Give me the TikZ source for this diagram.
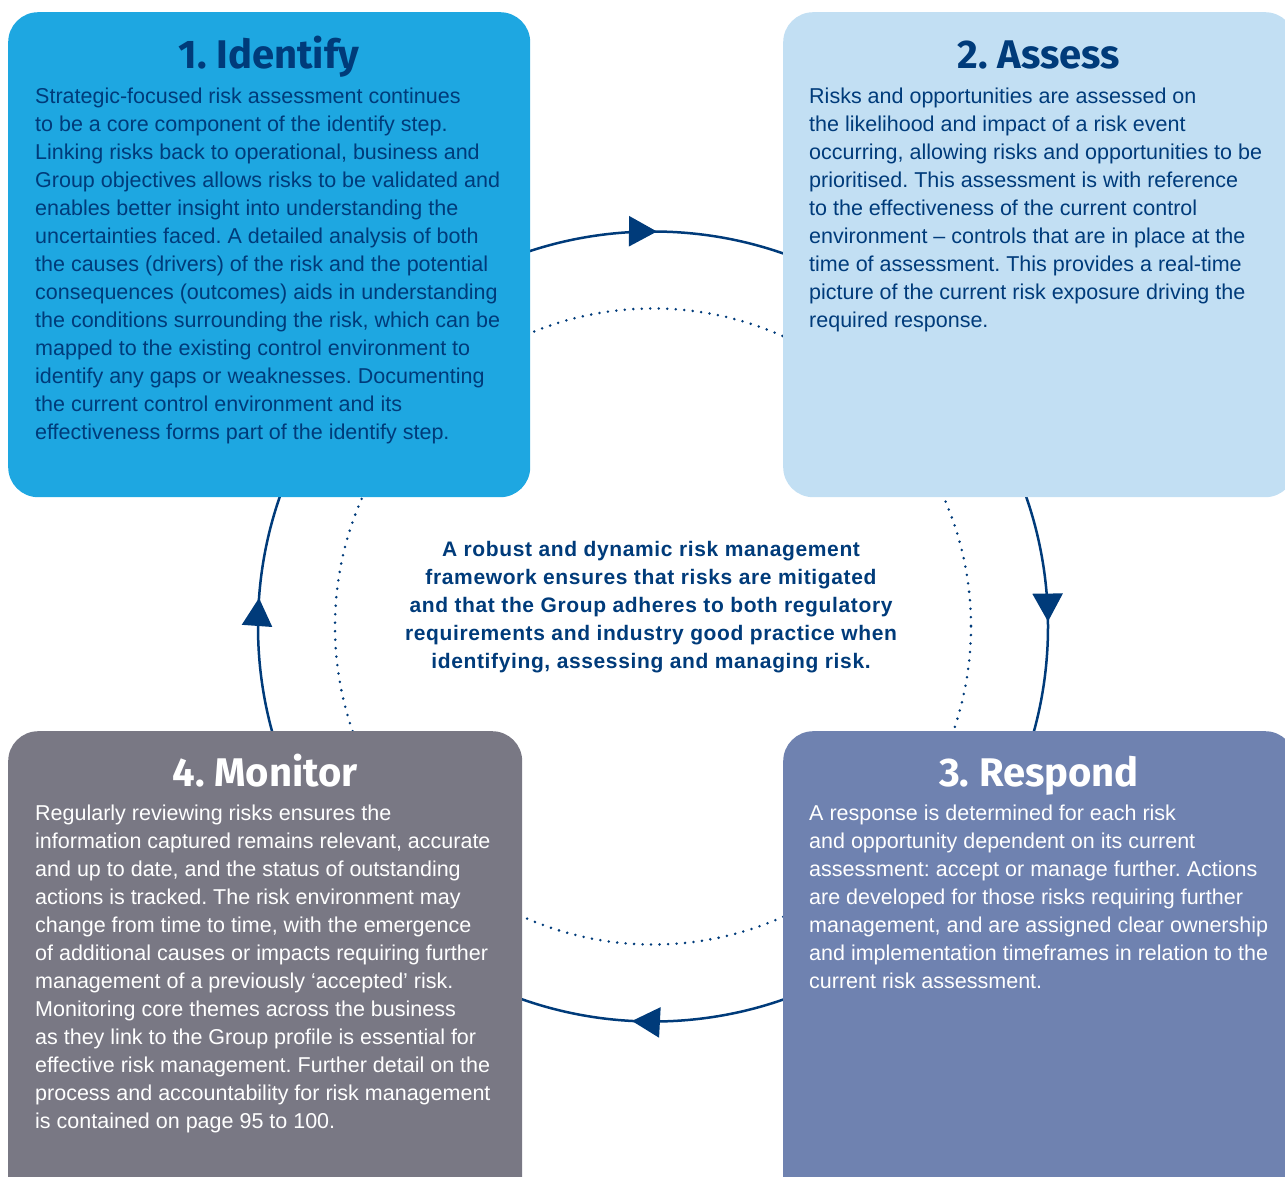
\documentclass[tikz,border=0pt]{standalone}
\usepackage{fontspec}
\setmainfont{Liberation Sans}
\newfontfamily\headfont{Fira Sans}
\newfontfamily\mottofont{Liberation Sans}[LetterSpace=3]
\usepackage{tikz}
\usetikzlibrary{arrows.meta, decorations.markings}
\definecolor{idblue}{RGB}{30, 167, 225}
\definecolor{asblue}{RGB}{194, 223, 243}
\definecolor{rsblue}{RGB}{111, 130, 176}
\definecolor{mngrey}{RGB}{121, 120, 132}
\definecolor{navy}{RGB}{0, 59, 122}
\frenchspacing
\tikzset{looptip/.tip={Triangle[length=28pt, width=30pt]}}

\begin{document}
\begin{tikzpicture}[x=1pt, y=-1pt,
    panel/.style={rectangle, rounded corners=30pt, inner sep=0pt, anchor=north west, minimum width=#1},
    heading/.style={anchor=base, inner sep=0pt, font=\headfont\bfseries\fontsize{40pt}{40pt}\selectfont},
    bodytext/.style={anchor=north west, inner sep=0pt, align=left, font=\fontsize{21.5pt}{28pt}\selectfont},
    motto/.style={anchor=north, inner sep=0pt, align=center, text=navy, font=\mottofont\bfseries\fontsize{21pt}{28pt}\selectfont},
    loopline/.style={draw=navy, line width=2.5pt},
    dotline/.style={draw=navy, line width=2.8pt, line cap=round, dash pattern=on 0pt off 8.5pt}
]
    \clip (0,0) rectangle (1285,1176);

    % Cycle
    \coordinate (hub) at (653,626.5);
    \draw[dotline] (hub) circle[radius=318];
    \draw[loopline, postaction={decorate}, decoration={markings,
        mark=at position 0.2585 with {\arrow{looptip}},
        mark=at position 0.5115 with {\arrow{looptip}},
        mark=at position 0.7516 with {\arrow{looptip}},
        mark=at position 0.9980 with {\arrow{looptip}}}]
        (hub) circle[radius=395];

    % Boxes
    \node[panel=522pt, minimum height=485pt, fill=idblue] (identify) at (8,12) {};
    \node[panel=512pt, minimum height=485pt, fill=asblue] (assess) at (783,12) {};
    \node[panel=512pt, minimum height=480pt, fill=rsblue] (respond) at (783,731) {};
    \node[panel=514pt, minimum height=480pt, fill=mngrey] (monitor) at (8,731) {};

    % Headings
    \node[heading, text=navy] (identify_h) at (269,68) {1. Identify};
    \node[heading, text=navy] (assess_h) at (1039,68) {2. Assess};
    \node[heading, text=white] (respond_h) at (1039,786) {3. Respond};
    \node[heading, text=white] (monitor_h) at (265,786) {4. Monitor};

    % Texts
    \node[bodytext, text=navy] (identify_t) at (35,87.3) {Strategic-focused risk assessment continues\\
        to be a core component of the identify step.\\
        Linking risks back to operational, business and\\
        Group objectives allows risks to be validated and\\
        enables better insight into understanding the\\
        uncertainties faced. A detailed analysis of both\\
        the causes (drivers) of the risk and the potential\\
        consequences (outcomes) aids in understanding\\
        the conditions surrounding the risk, which can be\\
        mapped to the existing control environment to\\
        identify any gaps or weaknesses. Documenting\\
        the current control environment and its\\
        effectiveness forms part of the identify step.};
    \node[bodytext, text=navy] (assess_t) at (809,87.3) {Risks and opportunities are assessed on\\
        the likelihood and impact of a risk event\\
        occurring, allowing risks and opportunities to be\\
        prioritised. This assessment is with reference\\
        to the effectiveness of the current control\\
        environment -- controls that are in place at the\\
        time of assessment. This provides a real-time\\
        picture of the current risk exposure driving the\\
        required response.};
    \node[bodytext, text=white] (respond_t) at (809,804.3) {A response is determined for each risk\\
        and opportunity dependent on its current\\
        assessment: accept or manage further. Actions\\
        are developed for those risks requiring further\\
        management, and are assigned clear ownership\\
        and implementation timeframes in relation to the\\
        current risk assessment.};
    \node[bodytext, text=white] (monitor_t) at (35,804.3) {Regularly reviewing risks ensures the\\
        information captured remains relevant, accurate\\
        and up to date, and the status of outstanding\\
        actions is tracked. The risk environment may\\
        change from time to time, with the emergence\\
        of additional causes or impacts requiring further\\
        management of a previously ‘accepted’ risk.\\
        Monitoring core themes across the business\\
        as they link to the Group profile is essential for\\
        effective risk management. Further detail on the\\
        process and accountability for risk management\\
        is contained on page 95 to 100.};

    % Centre statement
    \node[motto] (statement) at (651,541.5) {A robust and dynamic risk management\\
        framework ensures that risks are mitigated\\
        and that the Group adheres to both regulatory\\
        requirements and industry good practice when\\
        identifying, assessing and managing risk.};
\end{tikzpicture}
\end{document}
